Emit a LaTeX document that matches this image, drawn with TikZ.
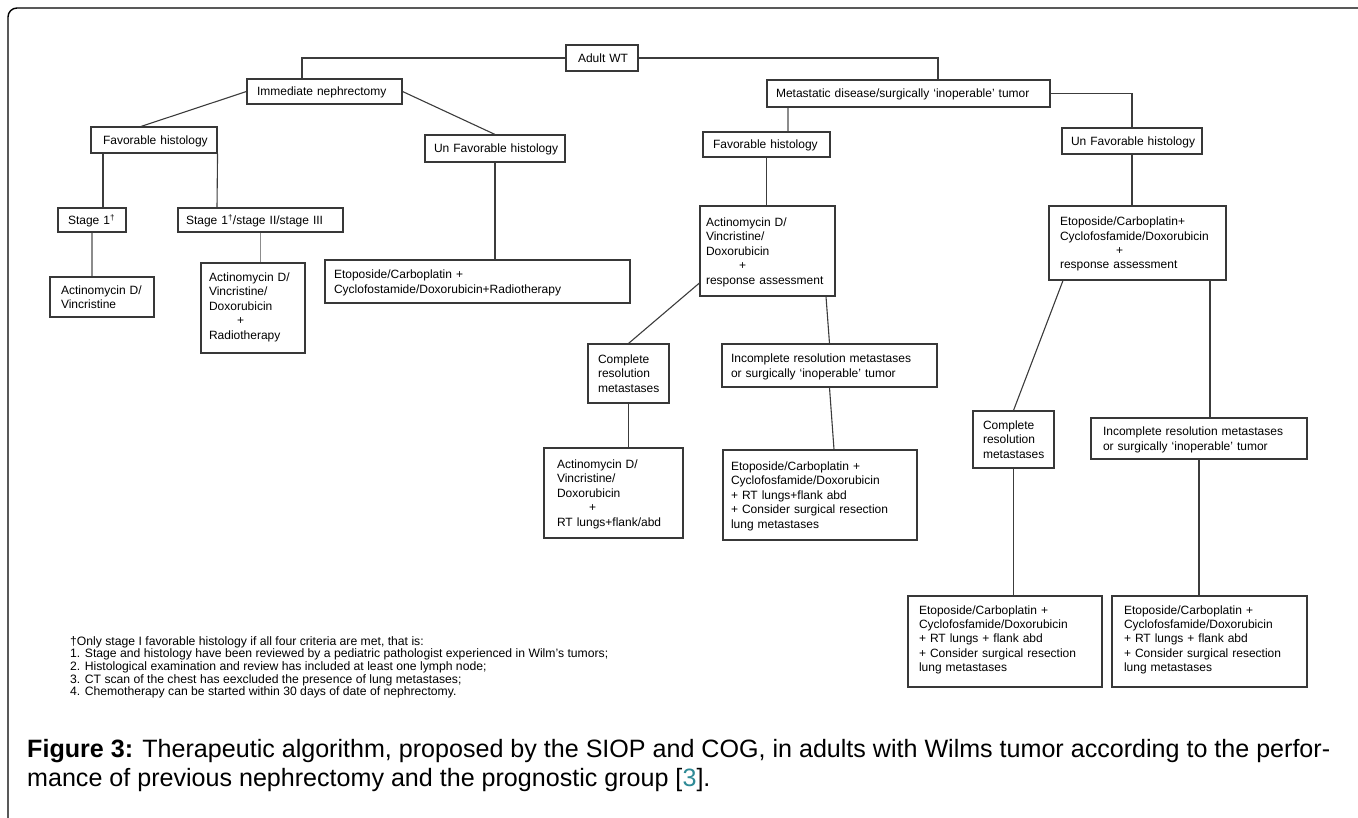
\documentclass[tikz,border=0pt]{standalone}
\usepackage{fontspec}
\setmainfont{Liberation Sans}
\usepackage{graphicx}
\usetikzlibrary{calc}
\definecolor{boxc}{HTML}{383838}
\definecolor{linec}{HTML}{3C3C3C}
\definecolor{lgray}{HTML}{8C8C8C}
\definecolor{refc}{HTML}{2E8A96}
\tikzset{
  flow/.style={draw=boxc, line width=1.1pt, fill=white, align=left, inner ysep=0pt,
    font=\fontsize{12}{14.4}\selectfont},
  conn/.style={draw=linec, line width=1.1pt},
  gconn/.style={draw=lgray, line width=1.1pt},
  frame/.style={draw=black, line width=1.4pt, rounded corners=9pt}
}
% #1 pad, #2 name, #3 x1, #4 y1, #5 x2, #6 y2, #7 text
\newcommand\flowbox[7][9]{%
  \pgfmathsetmacro\flW{#5-#3}%
  \pgfmathsetmacro\flH{#6-#4}%
  \pgfmathsetmacro\flX{(#3+#5)/2}%
  \pgfmathsetmacro\flY{(#4+#6)/2}%
  \pgfmathsetmacro\flT{#5-#3-2*#1}%
  \node[flow, inner xsep=#1pt, text width=\flT pt, minimum width=\flW pt, minimum height=\flH pt]
    (#2) at (\flX,\flY) {\noindent\raisebox{-1.5pt}[\height][\depth]{\begin{tabular}{@{}l@{}}#7\end{tabular}}};}
\begin{document}
\begin{tikzpicture}[x=1pt,y=-1pt]
\useasboundingbox (0,0) rectangle (1358,818);
\coordinate (fTL) at (8,8);
\draw[frame] (fTL |- 0,830) -- (fTL) -- (1370,8);

% boxes
\flowbox[12]{adult}{566}{45}{638}{71}{Adult WT}
\flowbox[10]{immed}{247}{79}{402}{104}{Immediate nephrectomy}
\flowbox[12]{favL}{91}{127}{217}{153}{Favorable histology}
\flowbox[9]{unfavL}{425}{135}{565}{162}{Un Favorable histology}
\flowbox[10]{stage1}{58}{208}{126}{232}{Stage 1\textsuperscript{†}}
\flowbox[8]{stage123}{178}{208}{343}{232}{Stage 1\textsuperscript{†}/stage II/stage III}
\flowbox[11]{actVinc}{50}{277}{154}{317}{Actinomycin D/\\Vincristine}
\flowbox[8]{actVincDox}{201}{263}{305}{353}{Actinomycin D/\\Vincristine/\\Doxorubicin\\\hspace*{28pt}+\\Radiotherapy\\[4pt]}
\flowbox[9]{etopL}{325}{260}{630}{303}{Etoposide/Carboplatin +\\Cyclofostamide/Doxorubicin+Radiotherapy}
\flowbox[9]{meta}{767}{80}{1050}{107}{Metastatic disease/surgically ‘inoperable’ tumor}
\flowbox[10]{favR}{703}{132}{830}{157}{Favorable histology}
\flowbox[9]{unfavR}{1062}{128}{1202}{154}{Un Favorable histology}
\flowbox[6]{actResp}{700}{206}{835}{296}{Actinomycin D/\\Vincristine/\\Doxorubicin\\\hspace*{33pt}+\\response assessment}
\flowbox[11]{etopResp}{1049}{206}{1226}{280}{Etoposide/Carboplatin+\\Cyclofosfamide/Doxorubicin\\\hspace*{56pt}+\\response assessment}
\flowbox[10]{complM}{588}{344}{669}{403}{Complete\\resolution\\metastases}
\flowbox[9]{incomplM}{722}{344}{937}{387}{Incomplete resolution metastases\\or surgically ‘inoperable’ tumor}
\flowbox[13]{actRT}{544}{448}{683}{538}{Actinomycin D/\\Vincristine/\\Doxorubicin\\\hspace*{32pt}+\\RT lungs+flank/abd}
\flowbox[8]{etopM}{723}{450}{917}{540}{Etoposide/Carboplatin +\\Cyclofosfamide/Doxorubicin\\+ RT lungs+flank abd\\+ Consider surgical resection\\lung metastases}
\flowbox[10]{complR}{973}{411}{1054}{468}{Complete\\resolution\\metastases}
\flowbox[12]{incomplR}{1091}{418}{1307}{459}{Incomplete resolution metastases\\or surgically ‘inoperable’ tumor}
\flowbox[11]{etopRa}{908}{596}{1102}{687}{Etoposide/Carboplatin +\\Cyclofosfamide/Doxorubicin\\+ RT lungs + flank abd\\+ Consider surgical resection\\lung metastases\\[6pt]}
\flowbox[12]{etopRb}{1112}{596}{1307}{687}{Etoposide/Carboplatin +\\Cyclofosfamide/Doxorubicin\\+ RT lungs + flank abd\\+ Consider surgical resection\\lung metastases\\[6pt]}

% connectors
\draw[conn] (adult.west) -| ([xshift=-22.5pt]immed.north);
\draw[conn] (adult.east) -| ([xshift=29.5pt]meta.north);
\draw[conn] (immed.west) -- ([xshift=-13pt]favL.north);
\draw[conn] (immed.east) -- (unfavL.north);
\draw[conn] ([xshift=-51pt]favL.south) -- ([xshift=11pt]stage1.north);
\draw[conn] (favL.south east) -- ([xshift=-43.5pt]stage123.north);
\draw[conn] (unfavL.south) -- (unfavL.south |- etopL.north);
\draw[gconn] (stage1.south) -- (stage1.south |- actVinc.north);
\draw[gconn] (stage123.south) -- (stage123.south |- actVincDox.north);
\draw[gconn] ([xshift=21.5pt]favR.north) -- ([xshift=21.5pt]favR.north |- meta.south);
\draw[conn] (meta.east) -| (unfavR.north);
\draw[conn] (favR.south) -- (favR.south |- actResp.north);
\draw[conn] (unfavR.south) -- (unfavR.south |- etopResp.north);
\draw[conn] ([yshift=-32pt]actResp.west) -- (complM.north);
\draw[conn] ([xshift=58.5pt]actResp.south) -- (incomplM.north);
\draw[conn] (complM.south) -- (complM.south |- actRT.north);
\draw[conn] (incomplM.south) -- ([xshift=14pt]etopM.north);
\draw[conn] ([xshift=-74.5pt]etopResp.south) -- (complR.north);
\draw[conn] ([xshift=72.5pt]etopResp.south) -- ([xshift=72.5pt]etopResp.south |- incomplR.north);
\draw[conn] (complR.south) -- (complR.south |- etopRa.north);
\draw[conn] (incomplR.south) -- (incomplR.south |- etopRb.north);

% footnote
\node[anchor=north west, inner sep=0pt] (note) at (70,636) {\resizebox{538pt}{!}{\fontsize{10}{10.4}\selectfont\begin{tabular}{@{}l@{}}
†Only stage I favorable histology if all four criteria are met, that is:\\
1. Stage and histology have been reviewed by a pediatric pathologist experienced in Wilm’s tumors;\\
2. Histological examination and review has included at least one lymph node;\\
3. CT scan of the chest has eexcluded the presence of lung metastases;\\
4. Chemotherapy can be started within 30 days of date of nephrectomy.
\end{tabular}}};

% caption
\node[anchor=north west, inner sep=0pt] (caption) at (27,738) {\resizebox{1303pt}{!}{\fontsize{20}{22.5}\selectfont\begin{tabular}{@{}l@{}}
\textbf{Figure 3:} Therapeutic algorithm, proposed by the SIOP and COG, in adults with Wilms tumor according to the perfor-\\
mance of previous nephrectomy and the prognostic group [{\color{refc}3}].
\end{tabular}}};
\end{tikzpicture}
\end{document}
